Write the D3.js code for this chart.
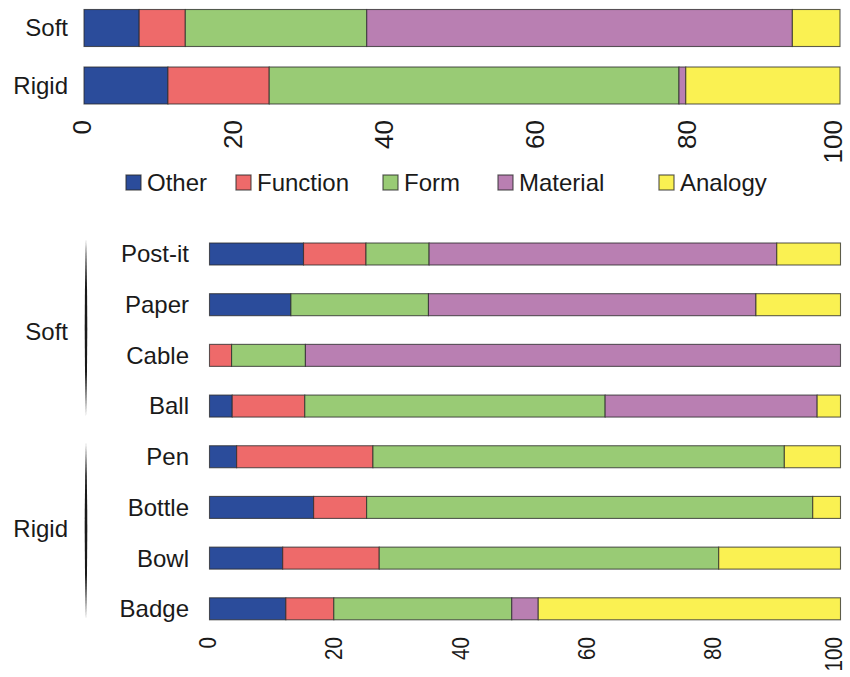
<!DOCTYPE html>
<html>
<head>
<meta charset="utf-8">
<script src="https://cdn.jsdelivr.net/npm/d3@7"></script>
<style>
  html, body { margin: 0; padding: 0; background: #fff; }
  svg { display: block; font-family: "Liberation Sans", Arial, sans-serif; }
</style>
</head>
<body>
<svg id="chart" width="850" height="677"></svg>
<script>
// ---------- data ----------
const categories = ["Other", "Function", "Form", "Material", "Analogy"];
const colors = ["#2B4C9B", "#EE6A6A", "#99CB75", "#B97FB2", "#FAF152"];

// overall (top) chart
const topGroups = ["Soft", "Rigid"];
const topOther    = [7.3, 11.1];
const topFunction = [6.1, 13.4];
const topForm     = [24.0, 54.2];
const topMaterial = [56.3, 0.9];
const topAnalogy  = [6.3, 20.4];

// per-object (bottom) chart
const objects   = ["Post-it", "Paper", "Cable", "Ball", "Pen", "Bottle", "Bowl", "Badge"];
const objGroup  = ["Soft", "Soft", "Soft", "Soft", "Rigid", "Rigid", "Rigid", "Rigid"];
const objOther    = [14.9, 12.9, 0.0, 3.6, 4.3, 16.5, 11.6, 12.1];
const objFunction = [9.9, 0.0, 3.5, 11.5, 21.6, 8.4, 15.3, 7.6];
const objForm     = [10.0, 21.8, 11.7, 47.6, 65.2, 70.7, 53.8, 28.2];
const objMaterial = [55.1, 51.9, 84.8, 33.6, 0.0, 0.0, 0.0, 4.2];
const objAnalogy  = [10.1, 13.4, 0.0, 3.7, 8.9, 4.4, 19.3, 47.9];

const tickValues = [0, 20, 40, 60, 80, 100];

// ---------- build tables ----------
function table(names, series) {
  return names.map((n, i) => {
    const row = { name: n };
    categories.forEach((c, j) => row[c] = series[j][i]);
    return row;
  });
}
const topData = table(topGroups, [topOther, topFunction, topForm, topMaterial, topAnalogy]);
const objData = table(objects, [objOther, objFunction, objForm, objMaterial, objAnalogy]);
const stack = d3.stack().keys(categories);
const color = d3.scaleOrdinal().domain(categories).range(colors);

const svg = d3.select("#chart");

function drawBars(g, data, x, y, h) {
  const layers = stack(data);
  g.selectAll("g.layer").data(layers).join("g")
    .attr("class", "layer")
    .attr("fill", d => color(d.key))
    .selectAll("rect")
    .data(d => d.filter(s => s[1] - s[0] > 0))
    .join("rect")
    .attr("x", d => x(d[0]))
    .attr("width", d => x(d[1]) - x(d[0]))
    .attr("y", d => y(d.data.name) - h / 2)
    .attr("height", h)
    .attr("stroke", "#2a2a2a")
    .attr("stroke-opacity", 0.75)
    .attr("stroke-width", 1.1);
}

function drawTicks(g, x, top, fontSize, squeeze, dy) {
  const last = tickValues[tickValues.length - 1];
  g.selectAll("text").data(tickValues).join("text")
    .attr("transform", d => `translate(${x(d)},${top}) rotate(-90) scale(${squeeze},1)`)
    .attr("text-anchor", "end")
    .attr("dy", d => d === last ? "0.08em" : dy)   // keep the last label inside the frame
    .attr("font-size", fontSize)
    .attr("fill", "#1a1a1a")
    .text(d => d);
}

// ---------- top chart ----------
const xTop = d3.scaleLinear().domain([0, 100]).range([84, 840]);
const yTop = d3.scalePoint().domain(topGroups).range([28, 85.5]);
const gTop = svg.append("g");
drawBars(gTop, topData, xTop, yTop, 37);

svg.append("g").selectAll("text").data(topGroups).join("text")
  .attr("x", 68).attr("y", d => yTop(d))
  .attr("dy", "0.35em")
  .attr("text-anchor", "end")
  .attr("font-size", 24)
  .attr("fill", "#1a1a1a")
  .text(d => d);

drawTicks(svg.append("g"), xTop, 120, 26, 1, "0.26em");

// ---------- legend ----------
const legendX = [126, 236, 383, 498, 659];
const leg = svg.append("g").selectAll("g").data(categories).join("g")
  .attr("transform", (d, i) => `translate(${legendX[i]},175)`);
leg.append("rect")
  .attr("width", 15).attr("height", 15)
  .attr("fill", d => color(d))
  .attr("stroke", "#2a2a2a").attr("stroke-opacity", 0.75).attr("stroke-width", 1.2);
leg.append("text")
  .attr("x", 21).attr("y", 7.5).attr("dy", "0.36em")
  .attr("font-size", 24)
  .attr("fill", "#1a1a1a")
  .text(d => d);

// ---------- bottom chart ----------
const xObj = d3.scaleLinear().domain([0, 100]).range([209.5, 840.5]);
const yObj = d3.scalePoint().domain(objects).range([254, 608.8]);
const gObj = svg.append("g");
drawBars(gObj, objData, xObj, yObj, 22);

svg.append("g").selectAll("text").data(objects).join("text")
  .attr("x", 189).attr("y", d => yObj(d))
  .attr("dy", "0.35em")
  .attr("text-anchor", "end")
  .attr("font-size", 24)
  .attr("fill", "#1a1a1a")
  .text(d => d);

drawTicks(svg.append("g"), xObj, 637, 24, 0.86, "0.28em");

// group labels with tapered brackets
const groups = Array.from(new Set(objGroup));
const step = yObj.step();
const bracket = svg.append("g");
groups.forEach(gname => {
  const members = objects.filter((o, i) => objGroup[i] === gname);
  const y0 = yObj(members[0]) - step * 0.28;
  const y1 = yObj(members[members.length - 1]) + step * 0.2;
  const cx = 86, w = 2.6, ym = (y0 + y1) / 2;
  const p = d3.path();
  p.moveTo(cx, y0);
  p.quadraticCurveTo(cx + w, ym, cx, y1);
  p.quadraticCurveTo(cx - w, ym, cx, y0);
  p.closePath();
  bracket.append("path").attr("d", p.toString()).attr("fill", "#1a1a1a");
  bracket.append("text")
    .attr("x", 68).attr("y", ym + (gname === "Rigid" ? -2 : 4))
    .attr("dy", "0.35em")
    .attr("text-anchor", "end")
    .attr("font-size", 24)
    .attr("fill", "#1a1a1a")
    .text(gname);
});
</script>
</body>
</html>
